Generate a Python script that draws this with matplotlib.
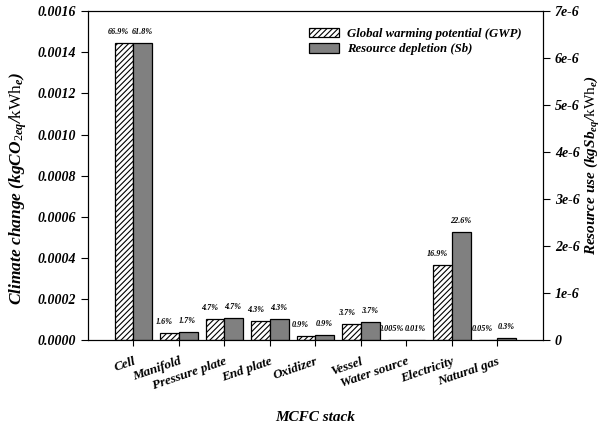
import matplotlib
matplotlib.use("Agg")
import matplotlib.pyplot as plt
import numpy as np

plt.rcParams['font.family'] = 'Liberation Serif'
plt.rcParams['mathtext.fontset'] = 'custom'
plt.rcParams['mathtext.rm'] = 'Liberation Serif'
plt.rcParams['mathtext.it'] = 'Liberation Serif:italic:bold'
plt.rcParams['mathtext.bf'] = 'Liberation Serif:bold'
plt.rcParams['hatch.linewidth'] = 0.8

categories = ['Cell', 'Manifold', 'Pressure plate', 'End plate', 'Oxidizer',
              'Vessel', 'Water source', 'Electricity', 'Natural gas']
gwp = [0.001444, 3.55e-5, 1.0e-4, 9.2e-5, 1.95e-5, 7.8e-5, 1e-7, 3.63e-4, 5e-7]
sb = [6.32e-6, 1.7e-7, 4.75e-7, 4.4e-7, 1.0e-7, 3.8e-7, 1e-9, 2.30e-6, 3.5e-8]
gwp_pct = ['66.9%', '1.6%', '4.7%', '4.3%', '0.9%', '3.7%', '0.005%', '16.9%', '0.05%']
sb_pct = ['61.8%', '1.7%', '4.7%', '4.3%', '0.9%', '3.7%', '0.01%', '22.6%', '0.3%']

FONT = dict(fontweight='bold', fontstyle='italic')

fig = plt.figure(figsize=(6.02, 4.28), dpi=100)
ax = fig.add_axes([0.146, 0.2056, 0.756, 0.768])
ax2 = ax.twinx()

x = np.arange(1, len(categories) + 1)
w = 0.41

ax.bar(x - w / 2, gwp, w, color='white', edgecolor='black', hatch='//////',
       linewidth=0.9, label='Global warming potential (GWP)', zorder=2)
ax2.bar(x + w / 2, sb, w, color='#808080', edgecolor='black',
        linewidth=0.9, label='Resource depletion (Sb)', zorder=2)

for xi, v, t in zip(x, gwp, gwp_pct):
    ax.text(xi - w / 2 - 0.12, v + 0.000035, t, ha='center', va='bottom', fontsize=5.9, **FONT)
for xi, v, t in zip(x, sb, sb_pct):
    ax2.text(xi + w / 2 - 0.02, v + 0.00000015, t, ha='center', va='bottom', fontsize=5.9, **FONT)

ax.set_xlim(0, 10)
ax.set_ylim(0, 0.0016)
ax2.set_ylim(0, 7e-6)
ax.set_yticks(np.arange(0, 0.00161, 0.0002))
ax.set_yticklabels([f'{v:.4f}' for v in np.arange(0, 0.00161, 0.0002)], fontsize=10, **FONT)
ax2.set_yticks(np.arange(0, 7.1e-6, 1e-6))
ax2.set_yticklabels(['0'] + [f'{i}e-6' for i in range(1, 8)], fontsize=10, **FONT)
ax.set_xticks(x)
ax.set_xticklabels(categories, rotation=19, ha='right', rotation_mode='anchor',
                   fontsize=9.5, **FONT)
ax.tick_params(axis='x', direction='out', length=4, pad=7)
ax.tick_params(axis='y', direction='out', length=5)
ax2.tick_params(axis='y', direction='out', length=5)

ax.set_ylabel(r'Climate change ($kgCO_{2eq}$/$\mathrm{kWh}_e$)', fontsize=12.5, **FONT)
ax.yaxis.set_label_coords(-0.13, 0.46)
ax2.set_ylabel(r'Resource use ($kgSb_{eq}$/$\mathrm{kWh}_e$)', fontsize=11,
               rotation=90, **FONT)
ax2.yaxis.set_label_coords(1.088, 0.53)
ax.set_xlabel('MCFC stack', fontsize=11, **FONT)
ax.xaxis.set_label_coords(0.5, -0.215)

h1, l1 = ax.get_legend_handles_labels()
h2, l2 = ax2.get_legend_handles_labels()
ax.legend(h1 + h2, l1 + l2, loc='upper right', bbox_to_anchor=(0.97, 0.973),
          frameon=False, prop={'weight': 'bold', 'style': 'italic', 'size': 9.2},
          handlelength=2.4, handleheight=0.75, handletextpad=0.6,
          labelspacing=0.25, borderaxespad=0.2)

fig.savefig('out.png', dpi=100)
